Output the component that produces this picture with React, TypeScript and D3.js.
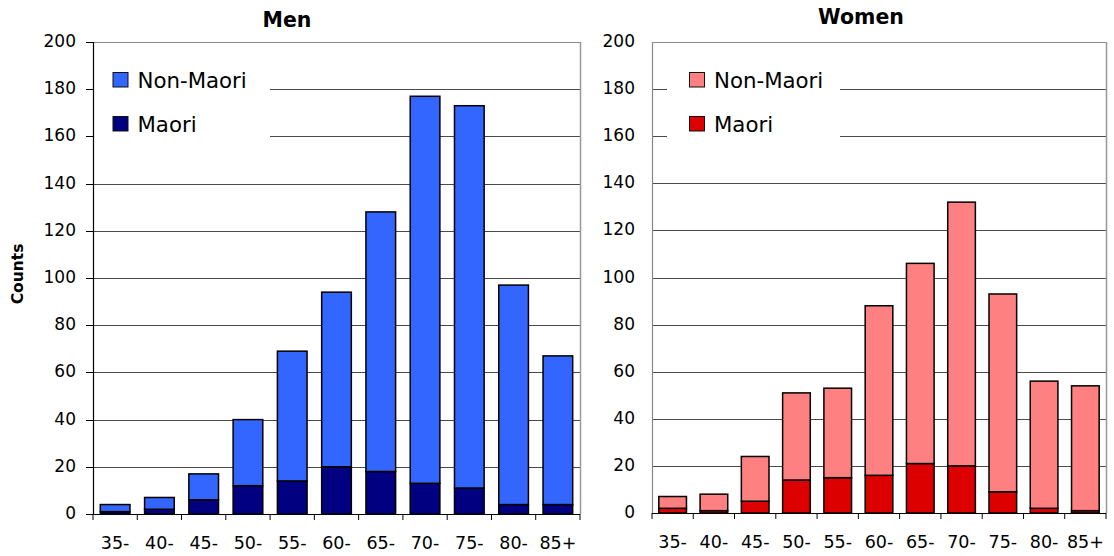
import React from "react";
import * as d3 from "d3";

const categories = ["35-", "40-", "45-", "50-", "55-", "60-", "65-", "70-", "75-", "80-", "85+"];
const menMaori = [1, 2, 6, 12, 14, 20, 18, 13, 11, 4, 4];
const menNonMaori = [3, 5, 11, 28, 55, 74, 110, 164, 162, 93, 63];
const womenMaori = [2, 1, 5, 14, 15, 16, 21, 20, 9, 2, 1];
const womenNonMaori = [5, 7, 19, 37, 38, 72, 85, 112, 84, 54, 53];
const yTicks = [0, 20, 40, 60, 80, 100, 120, 140, 160, 180, 200];
const seriesNames = ["Maori", "Non-Maori"];

const FONT = "'DejaVu Sans', sans-serif";

type PanelProps = {
  title: string;
  titleX: number;
  titleY: number;
  maori: number[];
  nonMaori: number[];
  colors: [string, string];
  x0: number;
  x1: number;
  yBottom: number;
  yTop: number;
  yAxisColor: string;
  yAxisTicks: boolean;
  labelRight: number;
  xLabelY: number;
  legendRect: [number, number, number, number];
  legendX: number;
};

function Panel(p: PanelProps) {
  const x = d3.scaleBand<string>().domain(categories).range([p.x0, p.x1]).paddingInner(0.33).paddingOuter(0.165);
  const y = d3.scaleLinear().domain([0, 200]).range([p.yBottom, p.yTop]);
  const step = x.step();
  const rows = categories.map((c, i) => ({ cat: c, Maori: p.maori[i], "Non-Maori": p.nonMaori[i] }));
  const stacked = d3.stack<any>().keys(seriesNames)(rows);
  const boundaries = d3.range(categories.length + 1).map((i) => p.x0 + i * step);
  const legendItems = [
    { name: "Non-Maori", color: p.colors[1], y: 88 },
    { name: "Maori", color: p.colors[0], y: 132 },
  ];
  return (
    <g>
      {yTicks.filter((t) => t > 0 && t < 200).map((t) => (
        <line key={"g" + t} x1={p.x0} x2={p.x1} y1={Math.round(y(t)) + 0.5} y2={Math.round(y(t)) + 0.5} stroke="#4a4a4a" strokeWidth={1} />
      ))}
      <line x1={p.x0} x2={p.x1} y1={Math.round(y(200)) + 0.5} y2={Math.round(y(200)) + 0.5} stroke="#888" strokeWidth={1.2} />
      <line x1={p.x1 + 0.5} x2={p.x1 + 0.5} y1={y(200)} y2={y(0)} stroke="#999" strokeWidth={1.5} />
      <rect x={p.legendRect[0]} y={p.legendRect[1]} width={p.legendRect[2]} height={p.legendRect[3]} fill="#fff" />
      {legendItems.map((l) => (
        <g key={l.name}>
          <rect x={p.legendX} y={l.y - 15.5} width={15} height={14.5} fill={l.color} stroke="#111" strokeWidth={1} />
          <text x={p.legendX + 24.5} y={l.y} fontFamily={FONT} fontSize={21.3} fill="#000">{l.name}</text>
        </g>
      ))}
      {stacked.map((s, si) => (
        <g key={s.key}>
          {s.map((d, i) => (
            <rect key={i} x={x(categories[i])!} y={y(d[1])} width={x.bandwidth()} height={y(d[0]) - y(d[1])} fill={p.colors[si]} stroke="#000" strokeWidth={1.5} />
          ))}
        </g>
      ))}
      <line x1={p.x0 + 0.5} x2={p.x0 + 0.5} y1={y(200)} y2={y(0)} stroke={p.yAxisColor} strokeWidth={1.2} />
      {p.yAxisTicks && yTicks.map((t) => (
        <line key={"t" + t} x1={p.x0 - 7} x2={p.x0} y1={Math.round(y(t)) + 0.5} y2={Math.round(y(t)) + 0.5} stroke="#000" strokeWidth={1} />
      ))}
      <line x1={p.x0} x2={p.x1} y1={Math.round(y(0)) + 0.5} y2={Math.round(y(0)) + 0.5} stroke="#000" strokeWidth={1.2} />
      {boundaries.map((b, i) => (
        <line key={"b" + i} x1={b} x2={b} y1={y(0)} y2={y(0) + 6} stroke="#000" strokeWidth={1} />
      ))}
      {yTicks.map((t) => (
        <text key={"yl" + t} x={p.labelRight} y={y(t) + 5} textAnchor="end" fontFamily={FONT} fontSize={17} fill="#000">{t}</text>
      ))}
      {categories.map((c) => (
        <text key={"xl" + c} x={x(c)! + x.bandwidth() / 2} y={p.xLabelY} textAnchor="middle" fontFamily={FONT} fontSize={17.5} fill="#000">{c}</text>
      ))}
      <text x={p.titleX} y={p.titleY} textAnchor="middle" fontFamily={FONT} fontWeight="bold" fontSize={20.5} fill="#000">{p.title}</text>
    </g>
  );
}

export default function App() {
  return (
    <svg width={1114} height={556} style={{ position: "absolute", left: 0, top: 0, background: "#fff" }}>
      <rect x={0} y={0} width={1114} height={556} fill="#fff" />
      <Panel
        title="Men" titleX={287} titleY={26.5}
        maori={menMaori} nonMaori={menNonMaori}
        colors={["#000080", "#3366FF"]}
        x0={93} x1={580} yBottom={514} yTop={42}
        yAxisColor="#000" yAxisTicks={true} labelRight={76}
        xLabelY={548.5}
        legendRect={[94, 58, 176, 90]} legendX={113}
      />
      <Panel
        title="Women" titleX={861} titleY={23.5}
        maori={womenMaori} nonMaori={womenNonMaori}
        colors={["#DC0000", "#FF8080"]}
        x0={652} x1={1106} yBottom={513} yTop={42}
        yAxisColor="#888" yAxisTicks={false} labelRight={635}
        xLabelY={547.5}
        legendRect={[667, 58, 173, 90]} legendX={689.5}
      />
      <text transform="translate(23,274) rotate(-90)" textAnchor="middle" fontFamily={FONT} fontWeight="bold" fontSize={15.5} fill="#000">Counts</text>
    </svg>
  );
}
